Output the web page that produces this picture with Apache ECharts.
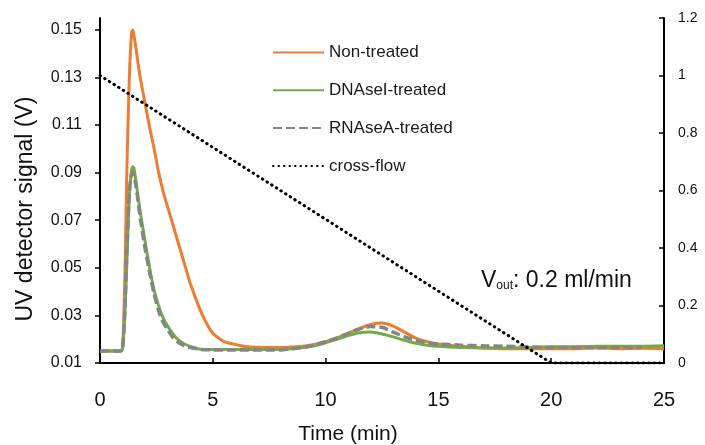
<!DOCTYPE html>
<html>
<head>
<meta charset="utf-8">
<script src="https://cdn.jsdelivr.net/npm/echarts@6/dist/echarts.min.js"></script>
<style>
  html, body { margin: 0; padding: 0; background: #fff; }
  #chart { width: 705px; height: 445px; }
</style>
</head>
<body>
<div id="chart"></div>
<script>
// Elution time (min) sampled for the UV traces
const time = [0, 0.5, 0.9, 1.0, 1.1, 1.2, 1.3, 1.4, 1.45, 1.5, 1.6, 1.7, 1.8, 2.0, 2.2, 2.4, 2.6, 2.8, 3.0, 3.25, 3.5, 3.75, 4.0, 4.5, 5.0, 5.5, 6, 6.5, 7, 7.5, 8, 8.5, 9, 9.5, 10, 10.5, 11, 11.5, 12, 12.5, 13, 13.5, 14, 14.5, 15, 16, 17, 18, 19, 20, 21, 22, 23, 24, 25];

// UV detector signal (V)
const nonTreated = [0.015, 0.015, 0.015, 0.016, 0.045, 0.095, 0.130, 0.149, 0.150, 0.148, 0.142, 0.135, 0.129, 0.119, 0.109, 0.100, 0.090, 0.082, 0.0755, 0.0675, 0.0595, 0.0515, 0.0435, 0.031, 0.0225, 0.019, 0.0178, 0.0168, 0.0166, 0.0165, 0.0165, 0.0167, 0.017, 0.0178, 0.019, 0.0205, 0.0225, 0.0245, 0.0262, 0.0268, 0.0255, 0.023, 0.0205, 0.019, 0.018, 0.017, 0.0163, 0.016, 0.016, 0.016, 0.016, 0.0163, 0.016, 0.0162, 0.016];
const dnaseTreated = [0.015, 0.015, 0.015, 0.016, 0.030, 0.055, 0.080, 0.091, 0.0925, 0.092, 0.086, 0.079, 0.0725, 0.061, 0.050, 0.0405, 0.034, 0.029, 0.0255, 0.022, 0.0195, 0.018, 0.017, 0.0157, 0.0157, 0.0157, 0.0157, 0.0157, 0.0157, 0.0157, 0.0157, 0.016, 0.0165, 0.0172, 0.0185, 0.020, 0.0215, 0.0227, 0.023, 0.0222, 0.021, 0.0195, 0.0183, 0.0175, 0.017, 0.0165, 0.0163, 0.0163, 0.0165, 0.0168, 0.0168, 0.017, 0.017, 0.017, 0.0172];
const rnaseTreated = [0.015, 0.015, 0.015, 0.016, 0.032, 0.060, 0.082, 0.0895, 0.090, 0.0895, 0.084, 0.077, 0.070, 0.058, 0.048, 0.039, 0.032, 0.027, 0.024, 0.0205, 0.0185, 0.0172, 0.0165, 0.0157, 0.0155, 0.0155, 0.0155, 0.0155, 0.0155, 0.0155, 0.0155, 0.016, 0.0165, 0.0175, 0.019, 0.0205, 0.0225, 0.0243, 0.0253, 0.025, 0.023, 0.021, 0.0195, 0.0185, 0.018, 0.0175, 0.0172, 0.017, 0.0168, 0.0165, 0.0165, 0.0165, 0.0165, 0.0167, null];

// Cross-flow programme (ml/min, right axis)
const crossFlowTime = [0, 20, 25];
const crossFlow = [1.0, 0, 0];

// Axis tick values
const xTicks = [0, 5, 10, 15, 20, 25];
const leftTicks = [0.01, 0.03, 0.05, 0.07, 0.09, 0.11, 0.13, 0.15];
const rightTicks = [0, 0.2, 0.4, 0.6, 0.8, 1, 1.2];

const FONT = '"Liberation Sans", Arial, sans-serif';
const pairs = (xs, ys) => xs.map((x, i) => [x, ys[i]]);

const chart = echarts.init(document.getElementById('chart'), null, { renderer: 'canvas' });

chart.setOption({
  animation: false,
  backgroundColor: '#fff',
  grid: { left: 100, right: 41, top: 18, bottom: 82, containLabel: false },
  legend: {
    orient: 'vertical',
    left: 267,
    top: 39,
    itemWidth: 51,
    itemHeight: 14,
    itemGap: 20.8,
    itemStyle: { opacity: 0 },
    textStyle: { fontFamily: FONT, fontSize: 17, color: '#1a1a1a' },
    data: ['Non-treated', 'DNAseI-treated', 'RNAseA-treated', 'cross-flow']
  },
  xAxis: {
    type: 'value',
    min: 0, max: 25, interval: 5,
    splitLine: { show: false },
    axisLine: { lineStyle: { color: '#000', width: 2 } },
    axisTick: { inside: true, length: 5, lineStyle: { color: '#000', width: 1.5 }, customValues: xTicks },
    axisLabel: { margin: 27, fontFamily: FONT, fontSize: 20, color: '#111', customValues: xTicks }
  },
  yAxis: [
    {
      type: 'value',
      min: 0.01, max: 0.155,
      splitLine: { show: false },
      axisLine: { show: true, lineStyle: { color: '#000', width: 2 } },
      axisTick: { show: true, length: 5, lineStyle: { color: '#000', width: 1.5 }, customValues: leftTicks },
      axisLabel: { margin: 18, fontFamily: FONT, fontSize: 16, color: '#111', customValues: leftTicks,
        formatter: v => v.toFixed(2) }
    },
    {
      type: 'value',
      position: 'right',
      min: 0, max: 1.2, interval: 0.2,
      splitLine: { show: false },
      axisLine: { show: true, lineStyle: { color: '#000', width: 2 } },
      axisTick: { show: true, inside: true, length: 5, lineStyle: { color: '#000', width: 1.5 }, customValues: rightTicks },
      axisLabel: { margin: 14, fontFamily: FONT, fontSize: 14, color: '#111', customValues: rightTicks,
        formatter: v => String(Math.round(v * 10) / 10) }
    }
  ],
  series: [
    {
      name: 'Non-treated', type: 'line', yAxisIndex: 0, symbol: 'none', smooth: 0.2,
      data: pairs(time, nonTreated),
      lineStyle: { color: '#ED7D31', width: 3 }, itemStyle: { color: '#ED7D31' }, z: 2
    },
    {
      name: 'DNAseI-treated', type: 'line', yAxisIndex: 0, symbol: 'none', smooth: 0.2,
      data: pairs(time, dnaseTreated),
      lineStyle: { color: '#70AD47', width: 3 }, itemStyle: { color: '#70AD47' }, z: 3
    },
    {
      name: 'RNAseA-treated', type: 'line', yAxisIndex: 0, symbol: 'none', smooth: 0.2,
      data: pairs(time, rnaseTreated),
      lineStyle: { color: '#858585', width: 3.5, type: [9, 4] }, itemStyle: { color: '#858585' }, z: 4
    },
    {
      name: 'cross-flow', type: 'line', yAxisIndex: 1, symbol: 'none',
      data: pairs(crossFlowTime, crossFlow),
      lineStyle: { color: '#000', width: 3, type: [0.5, 5], cap: 'round' }, itemStyle: { color: '#000' }, z: 5
    }
  ],
  graphic: [
    {
      type: 'text', x: 26, y: 209, rotation: Math.PI / 2,
      style: { text: 'UV detector signal (V)', font: '23px ' + FONT, fill: '#111', align: 'center', verticalAlign: 'middle' }
    },
    {
      type: 'text', x: 348, y: 434,
      style: { text: 'Time (min)', font: '21px ' + FONT, fill: '#111', align: 'center', verticalAlign: 'middle' }
    },
    {
      type: 'text', x: 481, y: 279,
      style: {
        text: '{v|V}{s|out}{v|: 0.2 ml/min}',
        verticalAlign: 'middle',
        rich: {
          v: { fontFamily: FONT, fontSize: 23, fill: '#111', verticalAlign: 'bottom', lineHeight: 26 },
          s: { fontFamily: FONT, fontSize: 12, fill: '#111', verticalAlign: 'bottom', lineHeight: 15 }
        }
      }
    }
  ]
});
</script>
</body>
</html>
